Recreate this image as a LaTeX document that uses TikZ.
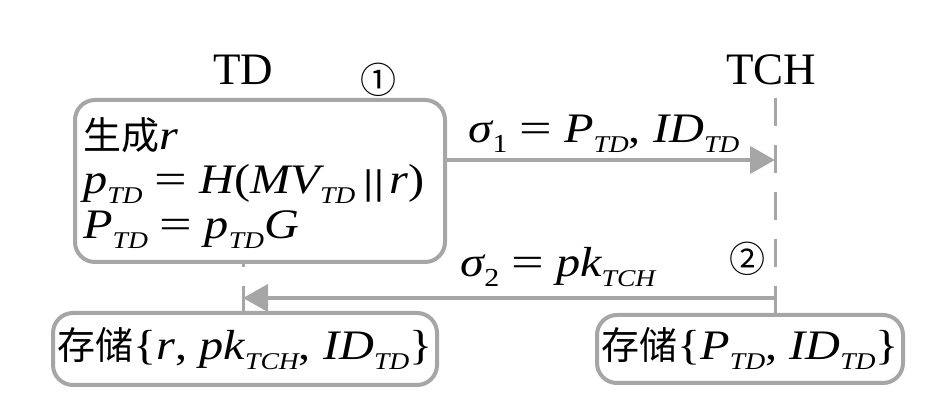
\documentclass[tikz,border=0pt]{standalone}
\usepackage{fontspec}
\usepackage{graphicx}
\setmainfont{Liberation Serif}
\newfontfamily\mf[FakeStretch=1.15]{Liberation Serif}
\newfontfamily\cjk{Noto Sans CJK SC}
\usetikzlibrary{arrows.meta}
\definecolor{lg}{HTML}{A6A6A6}
\newcommand\mi[1]{{\mf\itshape #1}}
\newcommand\mup[1]{{\mf #1}}
\newcommand\sbs[1]{\raisebox{-10pt}{\mf\fontsize{24}{24}\selectfont\itshape #1}}
\newcommand\sbn[1]{\raisebox{-10pt}{\mf\fontsize{26}{26}\selectfont #1}}
\newcommand\zh[1]{{\cjk\fontsize{38}{38}\selectfont #1}}
\newcommand\eq{\hspace{12pt}\scalebox{1.2}[1]{\mf =}\hspace{12pt}}
\newcommand\onebar{\raisebox{-1pt}{\scalebox{1.4}[0.85]{\textbar}}}
\newcommand\dbar{\onebar\kern-1pt\onebar}
\begin{document}
\begin{tikzpicture}[x=1pt,y=-1pt,
  lbl/.style={inner sep=0pt,font=\fontsize{45}{45}\selectfont},
  txt/.style={inner sep=0pt,font=\fontsize{42}{42}\selectfont},
  num/.style={inner sep=0pt,font=\cjk\fontsize{36}{36}\selectfont},
  box/.style={draw=lg,line width=4pt,rounded corners=20pt,fill=white,inner sep=0pt},
  life/.style={draw=lg,line width=3pt,dash pattern=on 28pt off 19pt},
  msg/.style={draw=lg,line width=4pt,-{Triangle[length=25pt,width=27pt]}}
]
\useasboundingbox (0,0) rectangle (945,411);
% lifeline heads
\node[lbl] (td) at (243,70) {TD};
\node[lbl] (tch) at (771,70) {TCH};
\coordinate (tdtop) at (243,98);
\coordinate (tchtop) at (775,98);
% bottom boxes
\node[box,minimum width=384pt,minimum height=72pt,txt] (b3) at (245,349)
  {\zh{存储}\mup{\{}\mi{r}\mup{, }\mi{pk}\sbs{TCH}\mup{, }\mi{ID}\sbs{TD}\mup{\}}};
\node[box,minimum width=306pt,minimum height=68pt,txt] (b2) at (750,349)
  {\zh{存储}\mup{\{}\mi{P}\sbs{TD}\mup{, }\mi{ID}\sbs{TD}\mup{\}}};
% lifelines
\draw[life] (tdtop) -- (tdtop |- b3.north);
\draw[life] (tchtop) -- (tchtop |- b2.north);
% top box
\node[box,minimum width=370pt,minimum height=162pt] (b1) at (260,181) {};
\node[txt,anchor=base west] (l1) at (83,150) {\zh{生成}\mi{r}};
\node[txt,anchor=base west] (l2) at (83,194) {\mi{p}\sbs{TD}\eq\mi{H}\mup{(}\mi{MV}\sbs{TD}\hspace{7pt}\dbar\hspace{5pt}\mi{r}\mup{)}};
\node[txt,anchor=base west] (l3) at (83,239) {\mi{P}\sbs{TD}\eq\mi{p}\sbs{TD}\mi{G}};
\node[num] (n1) at (378,80) {①};
\node[num] (n2) at (747,259) {②};
% messages
\coordinate (m1e) at (775,160);
\coordinate (m2s) at (775,298);
\coordinate (m2e) at (243,298);
\draw[msg] (b1.east |- m1e) -- (m1e);
\draw[msg] (m2s) -- (m2e);
\node[txt,anchor=base] (s1) at (604,143) {\mi{σ}\sbn{1}\eq\mi{P}\sbs{TD}\mup{, }\mi{ID}\sbs{TD}};
\node[txt,anchor=base] (s2) at (558,277) {\mi{σ}\sbn{2}\eq\mi{pk}\sbs{TCH}};
\end{tikzpicture}
\end{document}
